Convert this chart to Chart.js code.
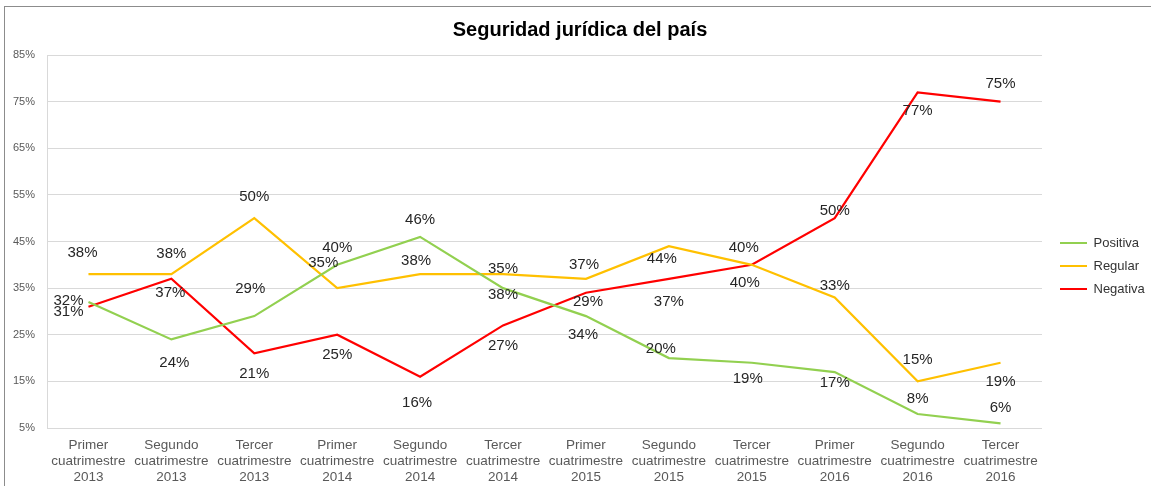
<!DOCTYPE html>
<html>
<head>
<meta charset="utf-8">
<title>Seguridad jurídica del país</title>
<script src="https://cdn.jsdelivr.net/npm/chart.js@4.4.1/dist/chart.umd.min.js"></script>
<style>
  html, body { margin: 0; padding: 0; background: #fff; }
  #wrap {
    position: absolute; left: 4px; top: 6px;
    width: 1146px; height: 479px;
    border-left: 1px solid #8c8c8c; border-top: 1px solid #8c8c8c;
  }
</style>
</head>
<body>
<div id="wrap"><canvas id="chart" width="1146" height="479"></canvas></div>
<script>
// Cuatrimestres y años del eje X
const periods = ['Primer', 'Segundo', 'Tercer', 'Primer', 'Segundo', 'Tercer',
                 'Primer', 'Segundo', 'Tercer', 'Primer', 'Segundo', 'Tercer'];
const years = ['2013', '2013', '2013', '2014', '2014', '2014',
               '2015', '2015', '2015', '2016', '2016', '2016'];

// Porcentaje de respuestas por opinión
const positiva = [32, 24, 29, 40, 46, 35, 29, 20, 19, 17, 8, 6];
const regular  = [38, 38, 50, 35, 38, 38, 37, 44, 40, 33, 15, 19];
const negativa = [31, 37, 21, 25, 16, 27, 34, 37, 40, 50, 77, 75];

// Escala del eje Y
const yMin = 5;
const yMax = 85;
const yStep = 10;

// Desplazamiento [dx, dy] de cada etiqueta respecto a su punto
const positivaLabelPos = [[-20, -1], [3, 23], [-4, -27], [0, -17], [0, -17], [0, -19],
                          [2, -14], [-8, -9], [-4, 16], [0, 11], [0, -15], [0, -15]];
const regularLabelPos  = [[-6, -21], [0, -20], [0, -21], [-14, -25], [-4, -13], [0, 21],
                          [-2, -14], [-7, 13], [-7, 18], [0, -12], [0, -22], [0, 19]];
const negativaLabelPos = [[-20, 5], [-1, 14], [0, 20], [0, 20], [-3, 26], [0, 20],
                          [-3, 42], [0, 23], [-8, -17], [0, -7], [0, 19], [0, -18]];

const FONT = '"Liberation Sans", Arial, sans-serif';
Chart.defaults.font.family = FONT;

const labels = periods.map((p, i) => [p, 'cuatrimestre', years[i]]);

// Etiquetas de valor junto a cada punto
const pointLabels = {
  id: 'pointLabels',
  afterDatasetsDraw(chart) {
    const ctx = chart.ctx;
    ctx.save();
    ctx.font = '15px ' + FONT;
    ctx.fillStyle = '#262626';
    ctx.textAlign = 'center';
    ctx.textBaseline = 'middle';
    chart.data.datasets.forEach((ds, i) => {
      const meta = chart.getDatasetMeta(i);
      meta.data.forEach((pt, j) => {
        const off = ds.labelPos[j];
        ctx.fillText(ds.data[j] + '%', pt.x + off[0], pt.y + off[1]);
      });
    });
    ctx.restore();
  }
};

// Separa la leyenda del área del gráfico y centra el título
const nudgeBoxes = {
  id: 'nudgeBoxes',
  afterLayout(chart) {
    const lg = chart.legend;
    lg.left += 8; lg.right += 8;
    lg.top += 24.5; lg.bottom += 24.5;
    const tb = chart.titleBlock;
    tb.left += 6.5; tb.right += 6.5;
  }
};

const lineDataset = (label, data, color, labelPos) => ({
  label: label,
  data: data,
  borderColor: color,
  backgroundColor: color,
  borderWidth: 2.2,
  pointRadius: 0,
  pointHoverRadius: 0,
  tension: 0,
  fill: false,
  labelPos: labelPos
});

new Chart(document.getElementById('chart'), {
  type: 'line',
  data: {
    labels: labels,
    datasets: [
      lineDataset('Positiva', positiva, '#92D050', positivaLabelPos),
      lineDataset('Regular', regular, '#FFC000', regularLabelPos),
      lineDataset('Negativa', negativa, '#FF0000', negativaLabelPos)
    ]
  },
  options: {
    responsive: false,
    animation: false,
    layout: { padding: { left: 0, right: 9, top: 0, bottom: 0 } },
    plugins: {
      title: {
        display: true,
        text: 'Seguridad jurídica del país',
        color: '#000',
        font: { size: 20, weight: 'bold', lineHeight: 1.2 },
        padding: { top: 11, bottom: 13 }
      },
      legend: {
        position: 'right',
        fullSize: false,
        maxWidth: 100,
        labels: {
          usePointStyle: true,
          pointStyle: 'line',
          pointStyleWidth: 27,
          padding: 10,
          color: '#333',
          font: { size: 13 }
        }
      },
      tooltip: { enabled: false }
    },
    scales: {
      x: {
        offset: true,
        grid: { display: false },
        border: { display: false },
        ticks: {
          autoSkip: false,
          maxRotation: 0,
          padding: 2,
          color: '#595959',
          font: { size: 13.5, lineHeight: 1.15 }
        },
        afterFit(scale) { scale.height = 58; }
      },
      y: {
        min: yMin,
        max: yMax,
        grid: { color: '#d9d9d9', drawTicks: false },
        border: { display: true, color: '#d9d9d9' },
        ticks: {
          stepSize: yStep,
          padding: 12,
          color: '#595959',
          font: { size: 11 },
          callback: v => v + '%'
        },
        afterFit(scale) { scale.width = 42; }
      }
    }
  },
  plugins: [pointLabels, nudgeBoxes]
});
</script>
</body>
</html>
